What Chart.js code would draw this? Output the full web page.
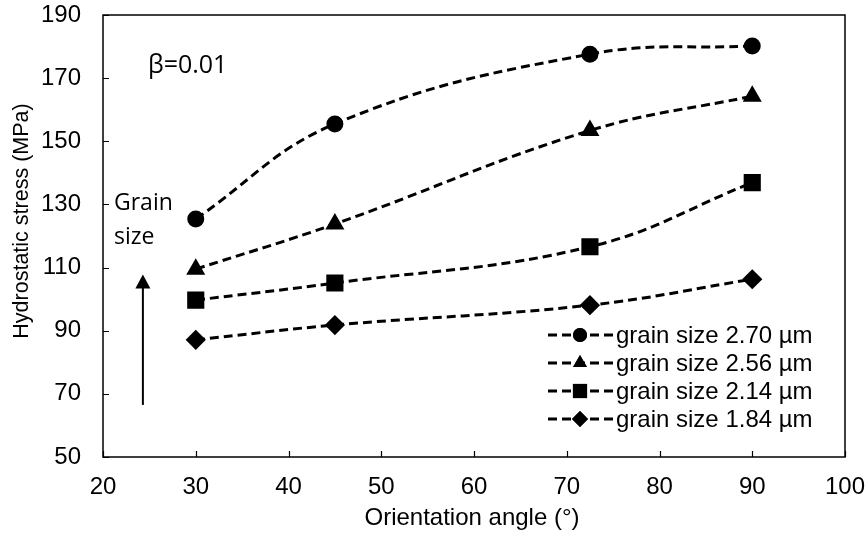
<!DOCTYPE html>
<html>
<head>
<meta charset="utf-8">
<script src="https://cdn.jsdelivr.net/npm/chart.js@4.4.1/dist/chart.umd.min.js"></script>
<style>
  html, body { margin: 0; padding: 0; background: #fff; }
  #wrap { width: 868px; height: 540px; }
</style>
</head>
<body>
<div id="wrap"><canvas id="chart"></canvas></div>
<script>
// angles (°) and hydrostatic stress (MPa) per grain size
const angles = [30, 45, 72.5, 90];
const g270 = [125.4, 155.5, 177.6, 180.2];
const g256 = [109.5, 123.8, 153.4, 164.3];
const g214 = [99.7, 105.1, 116.6, 136.9];
const g184 = [87.1, 91.8, 98.1, 106.3];
const seriesLabels = ['grain size 2.70 µm', 'grain size 2.56 µm', 'grain size 2.14 µm', 'grain size 1.84 µm'];
const xTicks = [20, 30, 40, 50, 60, 70, 80, 90, 100];
const yTicks = [50, 70, 90, 110, 130, 150, 170, 190];

const FONT = 'Liberation Sans, Arial, sans-serif';
const NOTE_FONT = 'Open Sans, Noto Sans, sans-serif';
const DASH = [9, 5];

function makeSet(label, values, style, radius) {
  return {
    label: label,
    data: values.map((v, i) => ({ x: angles[i], y: v })),
    borderColor: '#000',
    backgroundColor: '#000',
    borderWidth: 3,
    borderDash: DASH,
    pointStyle: style,
    pointRadius: radius,
    pointHoverRadius: radius,
    tension: 0.4,
    fill: false
  };
}

// cadre, graduations internes, titres, légende et annotations
const decorations = {
  id: 'decorations',
  afterDatasetsDraw(chart) {
    const ctx = chart.ctx;
    const a = chart.chartArea;
    const xs = chart.scales.x, ys = chart.scales.y;
    ctx.save();
    ctx.strokeStyle = '#000';
    ctx.fillStyle = '#000';
    ctx.lineWidth = 1.5;
    ctx.strokeRect(a.left, a.top, a.right - a.left, a.bottom - a.top);
    ctx.lineWidth = 1.2;
    ctx.beginPath();
    xTicks.forEach(t => {
      const px = Math.round(xs.getPixelForValue(t)) + 0.5;
      ctx.moveTo(px, a.bottom); ctx.lineTo(px, a.bottom - 6);
    });
    yTicks.forEach(t => {
      const py = Math.round(ys.getPixelForValue(t)) + 0.5;
      ctx.moveTo(a.left, py); ctx.lineTo(a.left + 6, py);
    });
    ctx.stroke();

    // axis titles
    ctx.textAlign = 'center';
    ctx.textBaseline = 'middle';
    ctx.font = '24px ' + FONT;
    ctx.fillText('Orientation angle (°)', 472, 518);
    ctx.save();
    ctx.translate(22, 221);
    ctx.rotate(-Math.PI / 2);
    ctx.font = '21.5px ' + FONT;
    ctx.fillText('Hydrostatic stress (MPa)', 0, 0);
    ctx.restore();

    // beta label
    ctx.textAlign = 'left';
    ctx.font = '25px ' + NOTE_FONT;
    ctx.fillText('β=0.01', 148, 66);

    // grain size arrow
    ctx.textBaseline = 'alphabetic';
    ctx.font = '23px ' + NOTE_FONT;
    ctx.fillText('Grain', 114, 210);
    ctx.fillText('size', 114, 244);
    const ax = xs.getPixelForValue(24.3);
    const yTop = ys.getPixelForValue(107.8), yBot = ys.getPixelForValue(66.5);
    ctx.lineWidth = 2;
    ctx.beginPath();
    ctx.moveTo(ax, yBot); ctx.lineTo(ax, yTop + 10);
    ctx.stroke();
    ctx.beginPath();
    ctx.moveTo(ax, yTop); ctx.lineTo(ax - 7.5, yTop + 14); ctx.lineTo(ax + 7.5, yTop + 14);
    ctx.closePath(); ctx.fill();

    // legend
    const rowsY = [335, 363, 391, 419];
    ctx.textBaseline = 'middle';
    ctx.font = '24px ' + FONT;
    chart.data.datasets.forEach((ds, i) => {
      const y = rowsY[i];
      ctx.lineWidth = 3;
      ctx.setLineDash(DASH);
      ctx.beginPath();
      ctx.moveTo(548, y); ctx.lineTo(613, y);
      ctx.stroke();
      ctx.setLineDash([]);
      Chart.helpers.drawPoint(ctx, { pointStyle: ds.pointStyle, radius: ds.pointRadius, rotation: 0, borderWidth: 0 }, 580, y);
      ctx.fill();
      ctx.fillText(ds.label, 616, y + 1);
    });
    ctx.restore();
  }
};

new Chart(document.getElementById('chart'), {
  type: 'line',
  data: {
    datasets: [
      makeSet(seriesLabels[0], g270, 'circle', 7),
      makeSet(seriesLabels[1], g256, 'triangle', 8),
      makeSet(seriesLabels[2], g214, 'rect', 10),
      makeSet(seriesLabels[3], g184, 'rectRot', 8)
    ]
  },
  options: {
    responsive: true,
    maintainAspectRatio: false,
    animation: false,
    layout: { padding: { left: 0, right: 23, top: 15, bottom: 0 } },
    plugins: { legend: { display: false }, tooltip: { enabled: false } },
    scales: {
      x: {
        type: 'linear',
        min: 20, max: 100,
        afterBuildTicks: s => { s.ticks = xTicks.map(v => ({ value: v })); },
        afterFit: s => { s.height = 83; s.paddingLeft = 0; s.paddingRight = 0; },
        grid: { display: false, drawTicks: false },
        border: { display: false },
        ticks: { color: '#000', font: { family: FONT, size: 24 }, padding: 16, maxRotation: 0 }
      },
      y: {
        min: 50, max: 190,
        afterBuildTicks: s => { s.ticks = yTicks.map(v => ({ value: v })); },
        afterFit: s => { s.width = 103; s.paddingTop = 0; s.paddingBottom = 0; },
        grid: { display: false, drawTicks: false },
        border: { display: false },
        ticks: { color: '#000', font: { family: FONT, size: 24 }, padding: 22 }
      }
    }
  },
  plugins: [decorations]
});
</script>
</body>
</html>
